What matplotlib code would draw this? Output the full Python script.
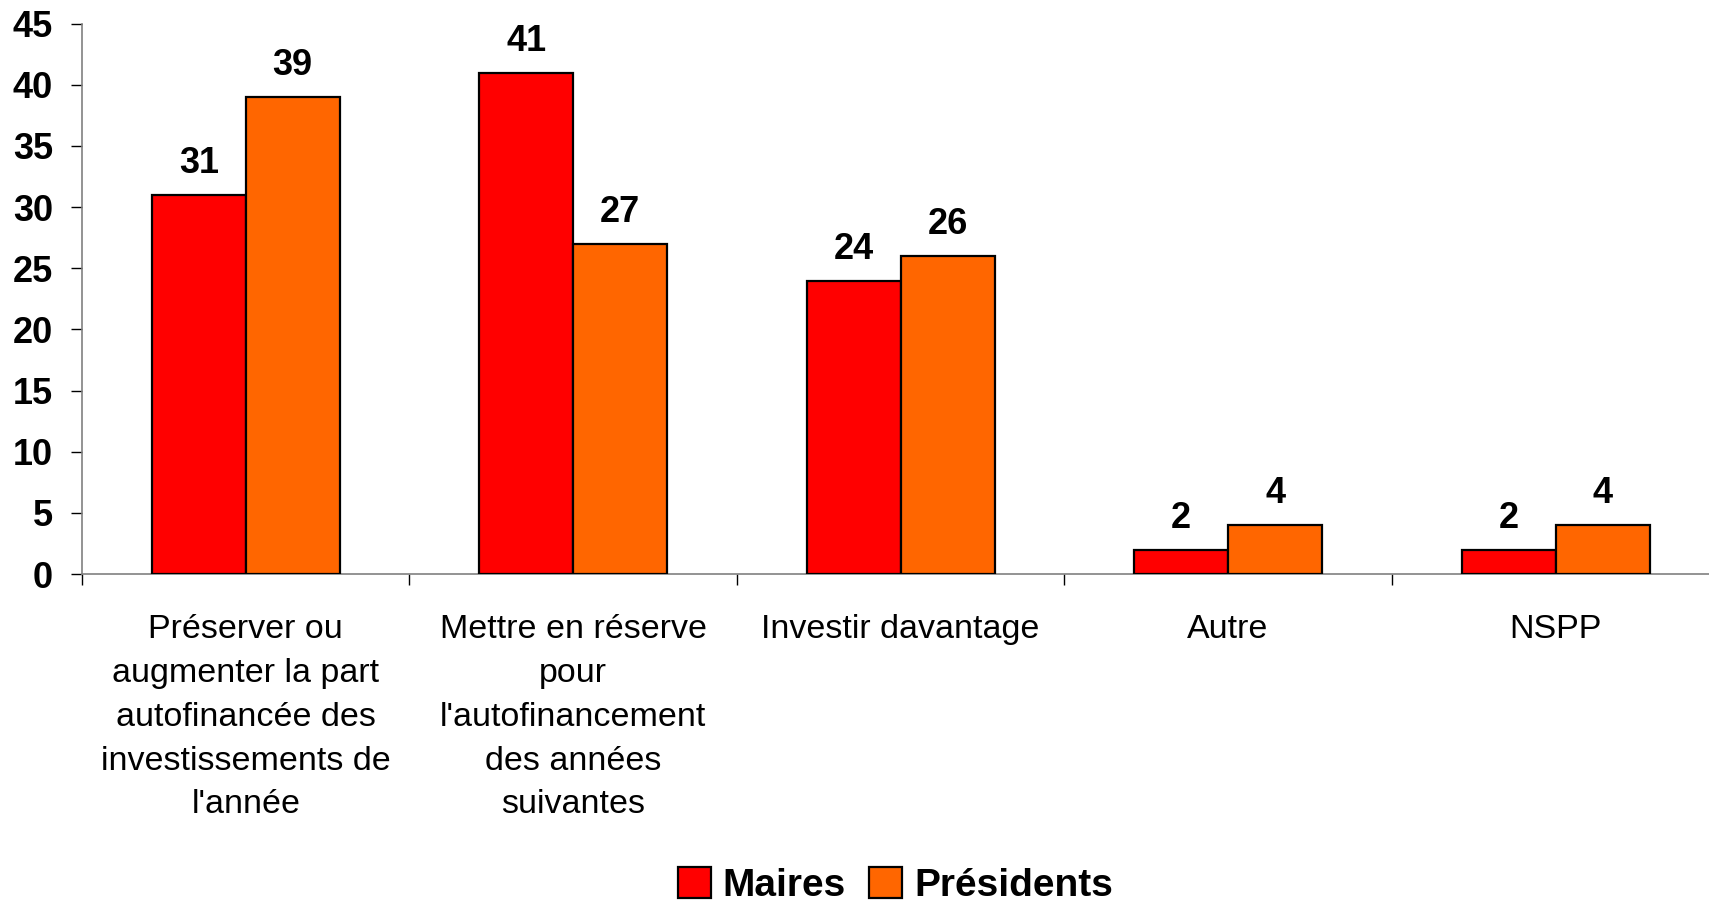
import numpy as np
import matplotlib
matplotlib.use('Agg')
import matplotlib.pyplot as plt

categories = [
    "Préserver ou\naugmenter la part\nautofinancée des\ninvestissements de\nl'année",
    "Mettre en réserve\npour\nl'autofinancement\ndes années\nsuivantes",
    "Investir davantage",
    "Autre",
    "NSPP",
]
maires = [31, 41, 24, 2, 2]
presidents = [39, 27, 26, 4, 4]
series_names = ['Maires', 'Présidents']
yticks = [0, 5, 10, 15, 20, 25, 30, 35, 40, 45]

plt.rcParams['font.family'] = ['Liberation Sans', 'DejaVu Sans']

fig = plt.figure(figsize=(17.09, 9.07), dpi=100)
ax = fig.add_axes([0.048, 0.367, 0.958, 0.607])

x = np.arange(len(categories))
w = 0.287
b1 = ax.bar(x - w / 2, maires, w, color='#FF0000', edgecolor='black', linewidth=1.6,
            label=series_names[0], zorder=3)
b2 = ax.bar(x + w / 2, presidents, w, color='#FF6600', edgecolor='black', linewidth=1.6,
            label=series_names[1], zorder=3)

for bars in (b1, b2):
    for r in bars:
        ax.annotate(f"{int(r.get_height())}", (r.get_x() + r.get_width() / 2, r.get_height()),
                    xytext=(0, 10), textcoords='offset points', ha='center', va='bottom',
                    fontsize=26, fontweight='bold')

ax.set_xlim(-0.5, 4.5)
ax.set_ylim(0, 45)
ax.set_yticks(yticks)
ax.set_yticklabels([str(v) for v in yticks], fontsize=26, fontweight='bold')
ax.tick_params(axis='y', length=8, width=1, pad=13)

ax.set_xticks(np.arange(-0.5, 5, 1))
ax.set_xticklabels([])
ax.tick_params(axis='x', which='major', length=8, width=1, direction='out')
ax.set_xticks(x, minor=True)
ax.set_xticklabels(categories, minor=True, fontsize=24.5, linespacing=1.53, va='top')
ax.tick_params(axis='x', which='minor', length=0, pad=29)

for s in ['top', 'right']:
    ax.spines[s].set_visible(False)
ax.spines['left'].set_color('#808080')
ax.spines['bottom'].set_color('#808080')
ax.spines['left'].set_linewidth(1.2)
ax.spines['bottom'].set_linewidth(1.2)

leg = fig.legend(loc='center', bbox_to_anchor=(0.524, 0.024), ncol=2, frameon=False,
                 prop={'size': 28, 'weight': 'bold'}, handlelength=0.85, handleheight=0.85,
                 handletextpad=0.3, columnspacing=0.6, borderpad=0.1)

fig.savefig('out.png', dpi=100)
